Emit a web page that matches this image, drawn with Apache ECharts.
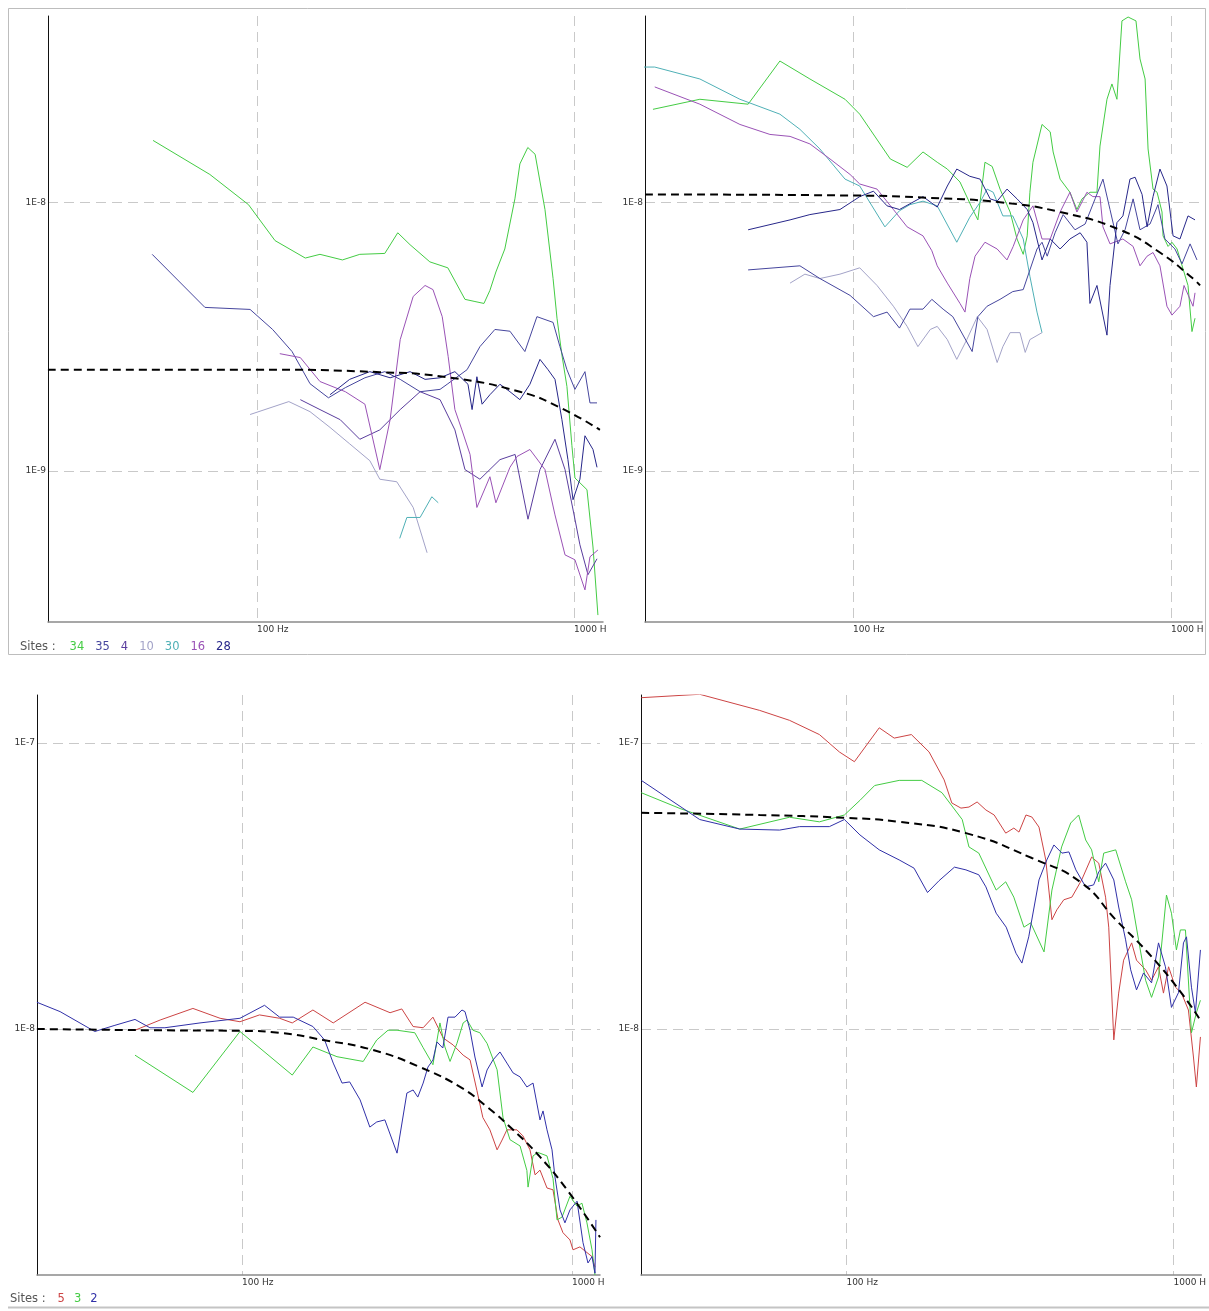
<!DOCTYPE html>
<html>
<head>
<meta charset="utf-8">
<script src="https://cdn.jsdelivr.net/npm/echarts@6/dist/echarts.min.js"></script>
<style>
  html, body { margin: 0; padding: 0; background: #fff; }
  #chart { width: 1209px; height: 1311px; }
</style>
</head>
<body>
<div id="chart"></div>
<script>
// Spectral amplitude vs frequency, four log-log panels.
// Each series is a list of [frequency (Hz), amplitude] pairs.

// ---- panel 1 (top left) ----
const p1_s34 = [[47,1.7e-8],[71,1.27e-8],[94,9.8e-9],[114,7.2e-9],[142,6.2e-9],[158,6.4e-9],[186,6.1e-9],[211,6.4e-9],[253,6.45e-9],[278,7.7e-9],[304,6.95e-9],[351,6.0e-9],[400,5.7e-9],[453,4.35e-9],[487,4.27e-9],[520,4.2e-9],[543,4.7e-9],[567,5.5e-9],[605,6.7e-9],[651,1.03e-8],[675,1.39e-8],[715,1.6e-8],[754,1.51e-8],[810,9.4e-9],[859,5.2e-9],[884,3.7e-9],[916,2.7e-9],[950,2.06e-9],[985,1.24e-9],[1007,9.4e-10],[1099,8.5e-10],[1148,5.2e-10],[1190,2.9e-10]];
const p1_s35 = [[46.7,6.4e-9],[68.5,4.06e-9],[95.1,3.99e-9],[112,3.36e-9],[129,2.78e-9],[147,2.11e-9],[168,1.87e-9],[190,2.04e-9],[219,2.22e-9],[253,2.34e-9],[283,2.19e-9],[327,1.97e-9],[378,2.01e-9],[398,2.1e-9],[460,2.38e-9],[505,2.9e-9],[563,3.36e-9],[628,3.31e-9],[700,2.78e-9],[764,3.75e-9],[859,3.57e-9],[903,2.9e-9],[950,2.38e-9],[1007,2.01e-9],[1083,2.34e-9],[1123,1.79e-9],[1182,1.79e-9]];
const p1_s4 = [[137,1.84e-9],[158,1.69e-9],[183,1.55e-9],[211,1.31e-9],[244,1.42e-9],[283,1.69e-9],[327,1.97e-9],[378,1.84e-9],[421,1.42e-9],[453,1.01e-9],[505,9.3e-10],[584,1.1e-9],[652,1.15e-9],[716,6.6e-10],[781,1.01e-9],[871,1.31e-9],[937,1.01e-9],[1007,6.6e-10],[1044,5.3e-10],[1107,4.1e-10],[1182,4.7e-10]];
const p1_s10 = [[95.1,1.62e-9],[126,1.81e-9],[147,1.66e-9],[170,1.45e-9],[196,1.26e-9],[227,1.09e-9],[244,9.3e-10],[276,9.1e-10],[311,7.3e-10],[344,4.95e-10]];
const p1_s30 = [[282,5.6e-10],[297,6.7e-10],[327,6.7e-10],[356,8.0e-10],[373,7.6e-10]];
const p1_s16 = [[118,2.73e-9],[137,2.64e-9],[158,2.15e-9],[190,1.97e-9],[219,1.77e-9],[244,1.01e-9],[263,1.55e-9],[283,3.08e-9],[311,4.46e-9],[339,4.9e-9],[359,4.73e-9],[384,3.75e-9],[401,2.66e-9],[421,1.69e-9],[443,1.42e-9],[470,1.15e-9],[494,7.3e-10],[543,9.5e-10],[567,7.6e-10],[628,1.03e-9],[661,1.13e-9],[726,1.2e-9],[810,1.01e-9],[871,6.85e-10],[937,4.86e-10],[1007,4.66e-10],[1083,3.6e-10],[1123,4.78e-10],[1190,5.07e-10]];
const p1_s28 = [[170,1.92e-9],[196,2.19e-9],[227,2.34e-9],[263,2.22e-9],[304,2.34e-9],[339,2.19e-9],[378,2.22e-9],[421,2.34e-9],[463,2.1e-9],[477,1.69e-9],[494,2.24e-9],[513,1.77e-9],[543,1.92e-9],[584,2.1e-9],[628,1.97e-9],[675,1.84e-9],[726,2.1e-9],[781,2.6e-9],[828,2.38e-9],[871,2.19e-9],[916,1.55e-9],[957,1.1e-9],[993,7.8e-10],[1044,9.3e-10],[1083,1.35e-9],[1148,1.2e-9],[1182,1.03e-9]];
const p1_fit = [[21.9,2.38e-9],[100,2.38e-9],[244,2.33e-9],[398,2.23e-9],[675,1.97e-9],[903,1.72e-9],[1207,1.42e-9]];

// ---- panel 2 (top right) ----
const p2_s34 = [[23.5,2.22e-8],[33,2.42e-8],[46.8,2.32e-8],[58.9,3.36e-8],[73.2,2.88e-8],[94.4,2.42e-8],[105,2.13e-8],[131,1.45e-8],[148,1.35e-8],[166,1.54e-8],[184,1.41e-8],[198,1.33e-8],[217,1.19e-8],[238,9.4e-9],[247,8.6e-9],[260,1.41e-8],[274,1.36e-8],[290,1.12e-8],[312,9.2e-9],[328,7.3e-9],[343,6.4e-9],[353,7.5e-9],[360,1.09e-8],[368,1.41e-8],[393,1.95e-8],[417,1.83e-8],[426,1.54e-8],[448,1.22e-8],[481,1.09e-8],[506,9.4e-9],[525,1.03e-8],[556,1.09e-8],[585,1.09e-8],[598,1.62e-8],[629,2.42e-8],[652,2.76e-8],[676,2.42e-8],[701,4.74e-8],[733,4.9e-8],[776,4.74e-8],[799,3.42e-8],[829,2.88e-8],[847,1.58e-8],[878,1.12e-8],[904,1.09e-8],[937,9.2e-9],[944,7.5e-9],[979,6.85e-9],[1007,7.1e-9],[1045,6.7e-9],[1131,4.9e-9],[1164,3.3e-9],[1190,3.7e-9]];
const p2_s30 = [[16.8,3.19e-8],[23.8,3.19e-8],[33,2.88e-8],[44.1,2.42e-8],[58.9,2.13e-8],[68.1,1.87e-8],[78.7,1.58e-8],[94.4,1.22e-8],[105,1.15e-8],[126,8.1e-9],[140,9.3e-9],[151,9.8e-9],[166,1.01e-8],[184,9.7e-9],[212,7.1e-9],[233,8.8e-9],[251,1.0e-8],[264,1.12e-8],[276,1.09e-8],[296,8.9e-9],[318,8.9e-9],[343,7.3e-9],[360,5.3e-9],[379,3.9e-9],[393,3.27e-9]];
const p2_s16 = [[23.8,2.69e-8],[33,2.32e-8],[44.1,1.95e-8],[54.8,1.79e-8],[63.4,1.76e-8],[73.2,1.65e-8],[84.7,1.45e-8],[97.9,1.27e-8],[105,1.17e-8],[119,1.12e-8],[134,9.4e-9],[148,8.1e-9],[166,7.5e-9],[177,6.6e-9],[184,5.8e-9],[198,5.0e-9],[217,4.2e-9],[225,3.9e-9],[233,5.2e-9],[242,6.3e-9],[260,7.1e-9],[284,6.7e-9],[305,6.1e-9],[319,6.85e-9],[343,8.6e-9],[368,9.7e-9],[393,7.3e-9],[417,7.3e-9],[448,9.2e-9],[481,1.09e-8],[506,9.2e-9],[544,1.09e-8],[568,1.05e-8],[598,1.05e-8],[611,8.1e-9],[643,7.0e-9],[706,7.3e-9],[760,6.85e-9],[799,5.8e-9],[841,6.3e-9],[878,6.5e-9],[923,5.8e-9],[971,4.1e-9],[1007,3.8e-9],[1067,4.1e-9],[1099,4.9e-9],[1173,4.1e-9],[1190,4.6e-9]];
const p2_s28 = [[46.8,7.9e-9],[63.4,8.6e-9],[73.2,9.0e-9],[91,9.4e-9],[105,1.05e-8],[116,1.1e-8],[128,9.7e-9],[140,9.4e-9],[166,1.05e-8],[184,9.6e-9],[198,1.15e-8],[212,1.33e-8],[233,1.25e-8],[251,1.22e-8],[270,1.03e-8],[284,1.01e-8],[305,1.12e-8],[328,1.03e-8],[353,9.4e-9],[368,8.4e-9],[393,6.1e-9],[417,7.3e-9],[448,6.7e-9],[481,7.3e-9],[518,7.7e-9],[544,7.1e-9],[556,4.2e-9],[585,4.9e-9],[629,3.2e-9],[643,4.9e-9],[676,8.4e-9],[706,8.9e-9],[743,1.22e-8],[771,1.24e-8],[811,1.07e-8],[841,8.1e-9],[878,1.05e-8],[923,1.33e-8],[971,1.15e-8],[1015,7.5e-9],[1067,7.3e-9],[1131,8.9e-9],[1190,8.6e-9]];
const p2_s35 = [[46.8,5.6e-9],[68.1,5.8e-9],[78.7,5.2e-9],[97.9,4.5e-9],[116,3.75e-9],[128,3.9e-9],[140,3.4e-9],[151,4.0e-9],[166,4.0e-9],[177,4.35e-9],[192,4.0e-9],[206,3.75e-9],[237,2.78e-9],[247,3.75e-9],[264,4.1e-9],[290,4.35e-9],[318,4.65e-9],[343,4.73e-9],[360,5.6e-9],[379,6.7e-9],[393,7.1e-9],[408,6.3e-9],[432,7.7e-9],[458,9.0e-9],[499,7.9e-9],[537,8.3e-9],[577,1.03e-8],[611,1.22e-8],[643,9.4e-9],[681,7.0e-9],[717,7.9e-9],[760,1.03e-8],[799,7.9e-9],[859,8.3e-9],[910,9.8e-9],[957,7.3e-9],[1029,6.7e-9],[1083,5.9e-9],[1148,7.0e-9],[1207,6.1e-9]];
const p2_s10 = [[63.4,5.0e-9],[70.6,5.4e-9],[78.7,5.2e-9],[91,5.4e-9],[105,5.7e-9],[119,4.9e-9],[134,4.1e-9],[148,3.45e-9],[160,2.9e-9],[175,3.36e-9],[184,3.45e-9],[198,3.08e-9],[212,2.6e-9],[228,3.08e-9],[246,3.75e-9],[264,3.36e-9],[284,2.53e-9],[296,2.9e-9],[312,3.27e-9],[335,3.27e-9],[348,2.76e-9],[360,3.08e-9],[393,3.27e-9]];
const p2_fit = [[22.2,1.07e-8],[100,1.06e-8],[171,1.04e-8],[290,1.0e-8],[448,9.2e-9],[691,7.9e-9],[923,6.5e-9],[1173,5.2e-9],[1234,4.9e-9]];

// ---- panel 3 (bottom left) ----
const p3_s5 = [[47.4,9.9e-9],[56.5,1.075e-8],[71,1.18e-8],[85.8,1.09e-8],[98.6,1.06e-8],[113,1.12e-8],[130,1.09e-8],[142,1.05e-8],[164,1.165e-8],[189,1.05e-8],[236,1.24e-8],[281,1.14e-8],[305,1.175e-8],[330,1.02e-8],[354,1.01e-8],[379,1.10e-8],[407,9.3e-9],[436,8.8e-9],[468,8.1e-9],[491,7.8e-9],[515,6.1e-9],[537,4.9e-9],[564,4.44e-9],[593,3.78e-9],[614,4.09e-9],[635,4.44e-9],[681,4.44e-9],[710,4.23e-9],[746,3.78e-9],[773,3.09e-9],[800,3.21e-9],[840,2.78e-9],[876,2.74e-9],[907,2.15e-9],[939,1.94e-9],[986,1.83e-9],[1007,1.69e-9],[1057,1.73e-9],[1150,1.60e-9],[1174,1.47e-9]];
const p3_s3 = [[47.4,8.1e-9],[71,6.0e-9],[98.6,9.8e-9],[142,6.9e-9],[164,8.65e-9],[194,8.0e-9],[233,7.7e-9],[256,9.15e-9],[277,9.9e-9],[295,9.9e-9],[334,9.7e-9],[354,8.6e-9],[379,7.5e-9],[390,9.15e-9],[398,1.05e-8],[412,8.65e-9],[427,7.7e-9],[448,8.9e-9],[468,1.05e-8],[481,1.075e-8],[501,9.9e-9],[526,9.7e-9],[553,8.9e-9],[593,7.2e-9],[618,4.9e-9],[649,4.1e-9],[696,3.9e-9],[730,3.2e-9],[736,2.8e-9],[762,3.6e-9],[789,3.7e-9],[840,3.6e-9],[876,3.0e-9],[901,2.15e-9],[933,2.2e-9],[986,2.6e-9],[1036,2.4e-9],[1072,2.46e-9],[1110,2.1e-9],[1150,1.69e-9],[1174,1.38e-9]];
const p3_s2 = [[23.9,1.24e-8],[28.1,1.15e-8],[35.8,9.8e-9],[41.2,1.03e-8],[47.4,1.08e-8],[52.6,1.01e-8],[58.4,1.01e-8],[74.6,1.05e-8],[98.6,1.09e-8],[117,1.21e-8],[130,1.10e-8],[143,1.10e-8],[164,1.02e-8],[178,9.15e-9],[189,7.6e-9],[201,6.47e-9],[212,6.53e-9],[228,5.65e-9],[244,4.54e-9],[256,4.73e-9],[271,4.81e-9],[295,3.68e-9],[316,5.97e-9],[330,6.12e-9],[341,5.78e-9],[354,6.47e-9],[366,7.36e-9],[379,7.79e-9],[390,9.01e-9],[406,8.58e-9],[421,1.10e-8],[442,1.10e-8],[464,1.165e-8],[474,1.15e-8],[491,9.9e-9],[508,7.98e-9],[534,6.27e-9],[553,7.19e-9],[576,7.79e-9],[605,8.31e-9],[635,7.6e-9],[663,7.02e-9],[696,6.8e-9],[730,6.27e-9],[762,6.47e-9],[800,4.81e-9],[817,5.17e-9],[840,4.44e-9],[870,3.78e-9],[888,3.04e-9],[920,2.33e-9],[952,2.10e-9],[986,2.33e-9],[1036,2.50e-9],[1080,1.79e-9],[1118,1.52e-9],[1150,1.60e-9],[1174,1.40e-9],[1182,2.15e-9]];
const p3_fit = [[23.9,1.0e-8],[52.6,9.9e-9],[100,9.85e-9],[130,9.7e-9],[176,9.15e-9],[249,8.45e-9],[346,7.36e-9],[458,6.27e-9],[553,5.34e-9],[663,4.44e-9],[800,3.57e-9],[966,2.74e-9],[1216,1.87e-9]];

// ---- panel 4 (bottom right) ----
const p4_s5 = [[23.6,1.44e-7],[35.6,1.48e-7],[54.3,1.30e-7],[67,1.20e-7],[82.7,1.07e-7],[95.2,9.3e-8],[105.8,8.6e-8],[126,1.13e-7],[140,1.04e-7],[158,1.07e-7],[179,9.3e-8],[199,7.43e-8],[210,6.17e-8],[224,5.92e-8],[237,5.97e-8],[251,6.22e-8],[267,5.83e-8],[283,5.6e-8],[307,4.84e-8],[325,5.04e-8],[337,4.88e-8],[354,5.6e-8],[369,5.51e-8],[388,5.08e-8],[407,3.9e-8],[425,2.41e-8],[440,2.61e-8],[462,2.83e-8],[489,2.89e-8],[524,3.32e-8],[562,3.99e-8],[591,3.8e-8],[620,2.89e-8],[634,2.27e-8],[657,9.16e-9],[680,1.335e-8],[704,1.74e-8],[745,2.0e-8],[771,1.74e-8],[822,1.61e-8],[857,1.48e-8],[900,1.65e-8],[932,1.335e-8],[966,1.65e-8],[1014,1.40e-8],[1058,1.335e-8],[1111,1.165e-8],[1151,7.98e-9],[1175,6.27e-9],[1209,9.38e-9]];
const p4_s3 = [[23.6,6.7e-8],[31,5.9e-8],[47.2,5.0e-8],[67,5.5e-8],[82.7,5.3e-8],[98.6,5.6e-8],[110,6.3e-8],[122,7.1e-8],[145,7.4e-8],[170,7.4e-8],[196,6.7e-8],[226,5.4e-8],[237,4.33e-8],[254,4.12e-8],[287,3.06e-8],[307,3.27e-8],[325,2.89e-8],[349,2.27e-8],[366,2.35e-8],[402,1.86e-8],[425,3.06e-8],[455,4.33e-8],[485,5.25e-8],[513,5.6e-8],[539,4.58e-8],[562,4.23e-8],[591,3.27e-8],[612,4.12e-8],[666,4.23e-8],[714,3.27e-8],[745,2.83e-8],[782,2.05e-8],[822,1.48e-8],[857,1.29e-8],[900,1.52e-8],[952,2.94e-8],[986,2.54e-8],[1021,1.89e-8],[1050,2.22e-8],[1088,2.22e-8],[1135,9.7e-9],[1175,1.14e-8],[1209,1.26e-8]];
const p4_s2 = [[23.6,7.4e-8],[35.6,5.4e-8],[47.2,5.0e-8],[62.5,4.96e-8],[71.9,5.1e-8],[88.7,5.1e-8],[98.6,5.4e-8],[110,4.77e-8],[126,4.23e-8],[145,3.9e-8],[161,3.65e-8],[177,3.0e-8],[192,3.3e-8],[214,3.68e-8],[232,3.6e-8],[254,3.46e-8],[267,3.14e-8],[287,2.54e-8],[308,2.27e-8],[330,1.84e-8],[344,1.70e-8],[361,2.10e-8],[388,3.32e-8],[410,3.9e-8],[431,4.4e-8],[456,4.12e-8],[479,4.16e-8],[503,3.6e-8],[539,3.14e-8],[570,3.19e-8],[591,3.54e-8],[620,3.8e-8],[657,3.32e-8],[680,2.67e-8],[714,2.05e-8],[740,1.61e-8],[771,1.37e-8],[810,1.57e-8],[857,1.45e-8],[900,2.0e-8],[945,1.65e-8],[986,1.19e-8],[1036,1.34e-8],[1073,2.0e-8],[1096,2.1e-8],[1135,1.4e-8],[1167,1.14e-8],[1209,1.89e-8]];
const p4_fit = [[23.6,5.7e-8],[54.3,5.6e-8],[100,5.47e-8],[145,5.3e-8],[232,4.84e-8],[369,3.96e-8],[524,3.24e-8],[666,2.41e-8],[839,1.84e-8],[1058,1.335e-8],[1217,1.06e-8]];

// ---- site legends and axis labels ----
const sitesTop = ['34', '35', '4', '10', '30', '16', '28'];
const sitesBottom = ['5', '3', '2'];
// frequency labels, cut off at the panel edge
const freqLabels = { 100: '100 Hz', 1000: '1000 H' };

const FONT = 'DejaVu Sans';
const COLORS = {
  '34': '#44cc44', '35': '#46469e', '4': '#5a3d9e', '10': '#a3a3c8',
  '30': '#4fb0b6', '16': '#9a52b6', '28': '#27278a',
  '5': '#cc4444', '3': '#44cc44', '2': '#3030a8'
};

const grids = [
  { left: 48,  top: 16,  width: 555, height: 606 },
  { left: 645, top: 16,  width: 557, height: 606 },
  { left: 37,  top: 695, width: 563, height: 580 },
  { left: 641, top: 695, width: 562, height: 580 }
];
const xRanges = [[21.91, 1234.6], [22.18, 1251.6], [23.92, 1215.9], [23.55, 1217.3]];
const yRanges = [[2.733e-10, 4.943e-8], [2.733e-10, 4.943e-8], [1.3798e-9, 1.4715e-7], [1.3798e-9, 1.4715e-7]];

const isDecade = v => Math.abs(Math.log10(v) - Math.round(Math.log10(v))) < 1e-6;
const gridLine = { show: true, showMinLine: false, showMaxLine: false,
  lineStyle: { color: '#c9c9c9', width: 1, type: [10, 6] } };

const xAxes = xRanges.map((r, i) => ({
  type: 'log', logBase: 10, gridIndex: i, min: r[0], max: r[1],
  axisLine: { show: true, onZero: false, lineStyle: { color: '#8a8a8a', width: 1.5 } },
  axisTick: { show: false },
  axisLabel: {
    interval: 0, align: 'left', margin: 3, fontSize: 9, color: '#333', fontFamily: FONT,
    formatter: v => isDecade(v) ? (freqLabels[Math.round(v)] || '') : ''
  },
  splitLine: gridLine
}));

const yAxes = yRanges.map((r, i) => ({
  type: 'log', logBase: 10, gridIndex: i, min: r[0], max: r[1],
  axisLine: { show: true, onZero: false, lineStyle: { color: '#111', width: 1 } },
  axisTick: { show: false },
  axisLabel: {
    interval: 0, margin: 2, fontSize: 9, color: '#333', fontFamily: FONT,
    formatter: v => isDecade(v) ? '1E' + Math.round(Math.log10(v)) : ''
  },
  splitLine: gridLine
}));

function siteLine(panel, site, data, extra) {
  return Object.assign({
    type: 'line', name: site, xAxisIndex: panel, yAxisIndex: panel, data,
    showSymbol: false, symbol: 'none', silent: true,
    lineStyle: { color: COLORS[site], width: 1 }, z: 2
  }, extra || {});
}
function fitLine(panel, data) {
  return {
    type: 'line', xAxisIndex: panel, yAxisIndex: panel, data, smooth: true,
    showSymbol: false, symbol: 'none', silent: true,
    lineStyle: { color: '#000', width: 2, type: [8, 5] }, z: 5
  };
}

const series = [
  siteLine(0, '34', p1_s34), siteLine(0, '35', p1_s35), siteLine(0, '4', p1_s4),
  siteLine(0, '10', p1_s10), siteLine(0, '30', p1_s30), siteLine(0, '16', p1_s16),
  siteLine(0, '28', p1_s28), fitLine(0, p1_fit),

  siteLine(1, '34', p2_s34), siteLine(1, '30', p2_s30, { clip: false }), siteLine(1, '16', p2_s16),
  siteLine(1, '10', p2_s10), siteLine(1, '35', p2_s35), siteLine(1, '28', p2_s28),
  fitLine(1, p2_fit),

  siteLine(2, '5', p3_s5), siteLine(2, '3', p3_s3), siteLine(2, '2', p3_s2), fitLine(2, p3_fit),

  siteLine(3, '5', p4_s5), siteLine(3, '3', p4_s3), siteLine(3, '2', p4_s2), fitLine(3, p4_fit)
];

function sitesTitle(sites, left, top, firstGap, gap) {
  const rich = { lbl: { color: '#555', fontSize: 11.5, fontWeight: 'normal', fontFamily: FONT } };
  let text = '{lbl|Sites :}';
  sites.forEach((s, i) => {
    rich['s' + i] = { color: COLORS[s], fontSize: 11.5, fontWeight: 'normal', fontFamily: FONT,
      padding: [0, 0, 0, i === 0 ? firstGap : gap] };
    text += '{s' + i + '|' + s + '}';
  });
  return { text, left, top, padding: 0, textStyle: { rich, fontSize: 11.5, fontWeight: 'normal' } };
}

const chart = echarts.init(document.getElementById('chart'), null, { renderer: 'canvas' });
chart.setOption({
  animation: false,
  backgroundColor: '#fff',
  title: [sitesTitle(sitesTop, 20, 641, 14, 11), sitesTitle(sitesBottom, 10, 1293, 12, 9)],
  grid: grids,
  xAxis: xAxes,
  yAxis: yAxes,
  series,
  graphic: [
    { type: 'rect', silent: true, z: -10,
      shape: { x: 8.5, y: 8.5, width: 1197, height: 646 },
      style: { fill: 'none', stroke: '#bdbdbd', lineWidth: 1 } },
    { type: 'line', silent: true, z: -10,
      shape: { x1: 8, y1: 1307.5, x2: 1209, y2: 1307.5 },
      style: { stroke: '#c4c4c4', lineWidth: 2 } }
  ]
});
</script>
</body>
</html>
